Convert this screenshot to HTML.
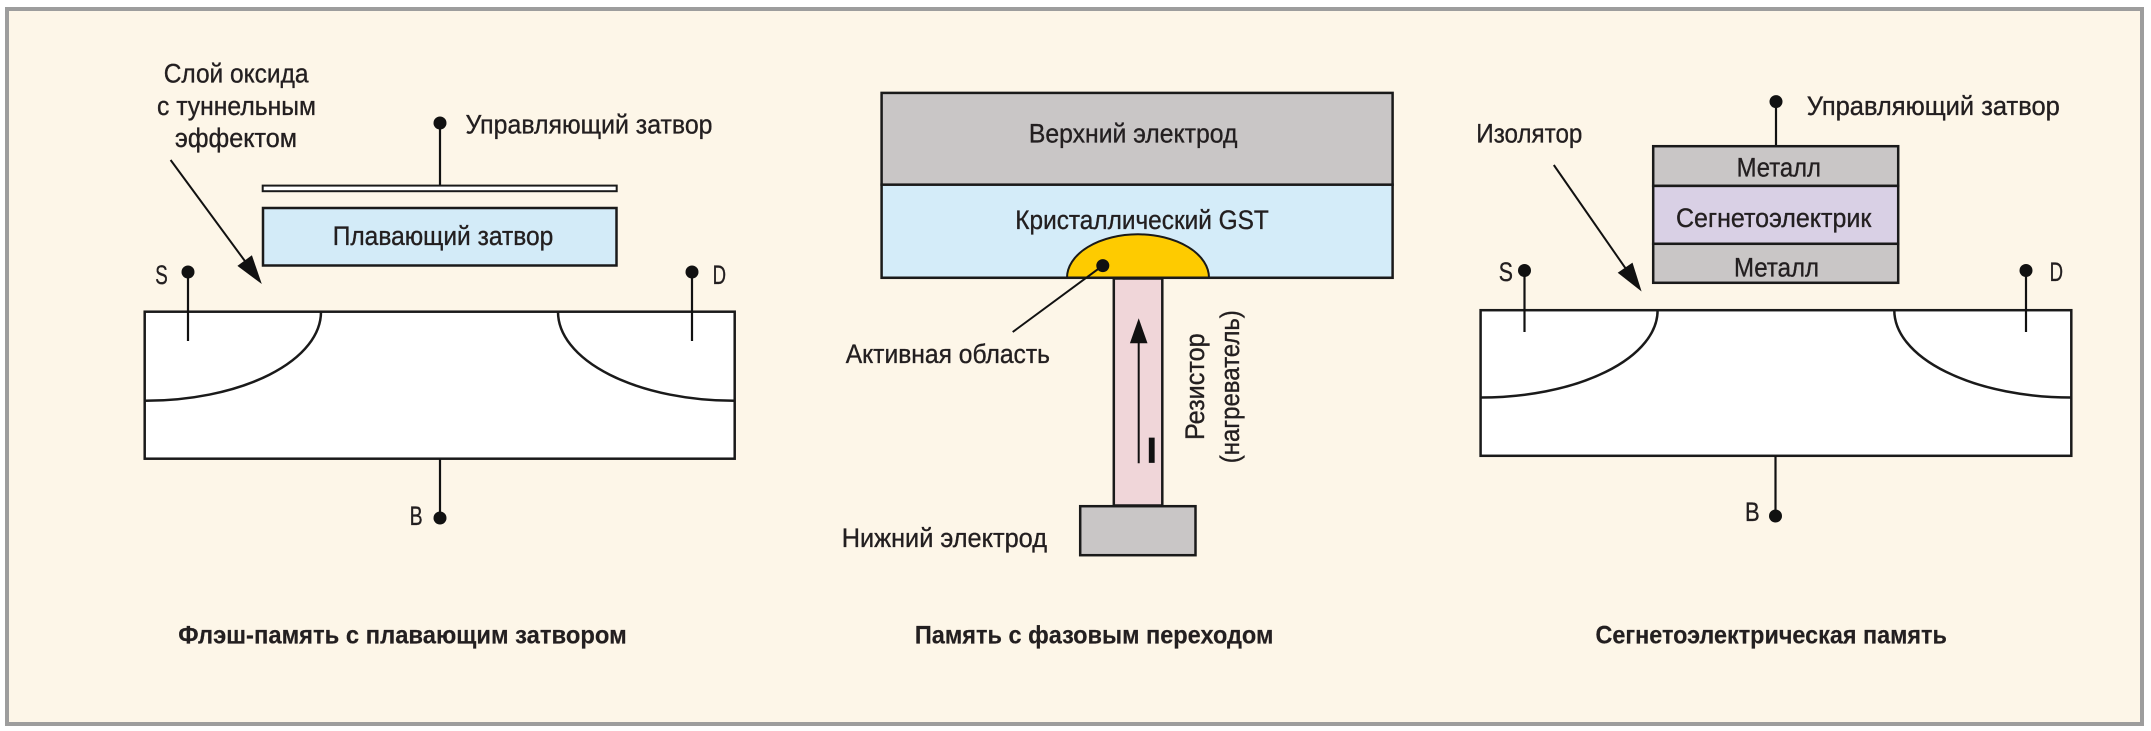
<!DOCTYPE html>
<html>
<head>
<meta charset="utf-8">
<style>
  html,body{margin:0;padding:0;background:#ffffff;}
  body{width:2151px;height:731px;overflow:hidden;}
  svg{display:block;}
  text{font-family:"Liberation Sans Narrow","Liberation Sans","DejaVu Sans",sans-serif;fill:#231f20;stroke:#231f20;stroke-width:0.35px;}
  .t{font-size:27px;}
  .h{font-size:25px;font-weight:bold;stroke-width:0.2px;}
</style>
</head>
<body>
<svg width="2151" height="731" viewBox="0 0 2151 731" xmlns="http://www.w3.org/2000/svg">
  <!-- frame -->
  <rect x="7" y="9" width="2135" height="715" fill="#fdf6e8" stroke="#9d9d9d" stroke-width="4"/>

  <!-- ================= FLASH ================= -->
  <text class="t" x="163.7" y="82.7" textLength="144.8" lengthAdjust="spacingAndGlyphs">Слой оксида</text>
  <text class="t" x="157" y="115.1" textLength="159" lengthAdjust="spacingAndGlyphs">с туннельным</text>
  <text class="t" x="175" y="146.9" textLength="122" lengthAdjust="spacingAndGlyphs">эффектом</text>

  <!-- control gate pin -->
  <line x1="440" y1="123" x2="440" y2="185" stroke="#111" stroke-width="2.2"/>
  <circle cx="440" cy="123" r="6.5" fill="#111"/>
  <text class="t" x="465.5" y="133.5" textLength="247" lengthAdjust="spacingAndGlyphs">Управляющий затвор</text>

  <!-- plate -->
  <rect x="262.7" y="185.6" width="354" height="5.6" fill="#ffffff" stroke="#1a1a1a" stroke-width="2"/>
  <!-- floating gate -->
  <rect x="263" y="208" width="353.5" height="57.5" fill="#d3ebf8" stroke="#1a1a1a" stroke-width="2.5"/>
  <text class="t" x="332.7" y="245" textLength="220.6" lengthAdjust="spacingAndGlyphs">Плавающий затвор</text>

  <!-- tunnel arrow -->
  <line x1="170.6" y1="160" x2="246" y2="262.5" stroke="#111" stroke-width="2"/>
  <polygon points="261.8,284 237.4,265.9 251.9,255.3" fill="#111"/>

  <!-- substrate -->
  <rect x="144.7" y="311.7" width="590" height="147" fill="#ffffff" stroke="#1a1a1a" stroke-width="2.5"/>
  <path d="M 321 311.7 A 176.3 89.1 0 0 1 144.7 400.8" fill="none" stroke="#1a1a1a" stroke-width="2.5"/>
  <path d="M 558 311.7 A 176.7 89.1 0 0 0 734.7 400.8" fill="none" stroke="#1a1a1a" stroke-width="2.5"/>

  <!-- S / D pins -->
  <line x1="188" y1="272" x2="188" y2="341" stroke="#111" stroke-width="2.2"/>
  <circle cx="188" cy="272" r="6.5" fill="#111"/>
  <text class="t" x="155.3" y="283.8" textLength="12.5" lengthAdjust="spacingAndGlyphs">S</text>
  <line x1="692" y1="272" x2="692" y2="341" stroke="#111" stroke-width="2.2"/>
  <circle cx="692" cy="272" r="6.5" fill="#111"/>
  <text class="t" x="712.6" y="283.8" textLength="13.4" lengthAdjust="spacingAndGlyphs">D</text>

  <!-- B pin -->
  <line x1="440" y1="459" x2="440" y2="518" stroke="#111" stroke-width="2.2"/>
  <circle cx="440" cy="518" r="6.5" fill="#111"/>
  <text class="t" x="409.6" y="525" textLength="13" lengthAdjust="spacingAndGlyphs">B</text>

  <text class="h" x="178.3" y="643.3" textLength="448.4" lengthAdjust="spacingAndGlyphs">Флэш-память с плавающим затвором</text>

  <!-- ================= PCM ================= -->
  <rect x="881.6" y="92.9" width="511" height="91.8" fill="#c9c6c6" stroke="#1a1a1a" stroke-width="2.5"/>
  <rect x="881.6" y="184.7" width="511" height="93.1" fill="#d4ecf9" stroke="#1a1a1a" stroke-width="2.5"/>
  <text class="t" x="1028.9" y="142.6" textLength="208.5" lengthAdjust="spacingAndGlyphs">Верхний электрод</text>
  <text class="t" x="1015.3" y="228.9" textLength="253.5" lengthAdjust="spacingAndGlyphs">Кристаллический GST</text>

  <!-- dome -->
  <path d="M 1067 277.8 A 71 43.5 0 0 1 1209 277.8 Z" fill="#fecb00" stroke="#1a1a1a" stroke-width="2"/>
  <line x1="881.6" y1="277.8" x2="1392.6" y2="277.8" stroke="#1a1a1a" stroke-width="2.5"/>

  <!-- resistor -->
  <rect x="1113.8" y="278.5" width="48.5" height="227" fill="#f0d6d9" stroke="#1a1a1a" stroke-width="2.5"/>
  <!-- bottom electrode -->
  <rect x="1080.2" y="506.2" width="115.3" height="49" fill="#c9c6c6" stroke="#1a1a1a" stroke-width="2.5"/>

  <!-- active region pointer -->
  <line x1="1102.8" y1="265.6" x2="1012.7" y2="332" stroke="#111" stroke-width="2"/>
  <circle cx="1102.8" cy="265.6" r="6.5" fill="#111"/>
  <text class="t" x="845.7" y="363" textLength="204.3" lengthAdjust="spacingAndGlyphs">Активная область</text>
  <text class="t" x="841.7" y="547.2" textLength="205.3" lengthAdjust="spacingAndGlyphs">Нижний электрод</text>

  <!-- current arrow -->
  <line x1="1138.7" y1="463.3" x2="1138.7" y2="342" stroke="#111" stroke-width="2"/>
  <polygon points="1138.7,318.3 1129.9,343.3 1147.5,343.3" fill="#111"/>
  <text x="1151.7" y="462.3" text-anchor="middle" style="font-size:35px;font-weight:bold;fill:#111;stroke:#111;stroke-width:0.8px;">I</text>

  <!-- rotated labels -->
  <text class="t" transform="translate(1204,386.7) rotate(-90)" x="-53.35" y="0" textLength="106.7" lengthAdjust="spacingAndGlyphs">Резистор</text>
  <text class="t" transform="translate(1239,386.7) rotate(-90)" x="-76.5" y="0" textLength="153" lengthAdjust="spacingAndGlyphs">(нагреватель)</text>

  <text class="h" x="914.9" y="643.3" textLength="358.5" lengthAdjust="spacingAndGlyphs">Память с фазовым переходом</text>

  <!-- ================= FERRO ================= -->
  <line x1="1776" y1="101.6" x2="1776" y2="146" stroke="#111" stroke-width="2.2"/>
  <circle cx="1776" cy="101.6" r="6.5" fill="#111"/>
  <text class="t" x="1806.8" y="115" textLength="253" lengthAdjust="spacingAndGlyphs">Управляющий затвор</text>

  <rect x="1653.2" y="146.2" width="245" height="39.7" fill="#c9c6c6" stroke="#1a1a1a" stroke-width="2.5"/>
  <rect x="1653.2" y="185.9" width="245" height="57.9" fill="#d9d0e5" stroke="#1a1a1a" stroke-width="2.5"/>
  <rect x="1653.2" y="243.8" width="245" height="39" fill="#c9c6c6" stroke="#1a1a1a" stroke-width="2.5"/>
  <text class="t" x="1736.6" y="176.6" textLength="84.4" lengthAdjust="spacingAndGlyphs">Металл</text>
  <text class="t" x="1676" y="227.2" textLength="195.3" lengthAdjust="spacingAndGlyphs">Сегнетоэлектрик</text>
  <text class="t" x="1734" y="276.5" textLength="85" lengthAdjust="spacingAndGlyphs">Металл</text>

  <text class="t" x="1476.3" y="142.6" textLength="106.1" lengthAdjust="spacingAndGlyphs">Изолятор</text>
  <line x1="1553.8" y1="165" x2="1626.5" y2="269.7" stroke="#111" stroke-width="2"/>
  <polygon points="1641.6,291.5 1617.7,272.8 1632.5,262.6" fill="#111"/>

  <rect x="1480.6" y="310.2" width="590.7" height="145.6" fill="#ffffff" stroke="#1a1a1a" stroke-width="2.5"/>
  <path d="M 1657.6 310.2 A 177 87.3 0 0 1 1480.6 397.5" fill="none" stroke="#1a1a1a" stroke-width="2.5"/>
  <path d="M 1894.3 310.2 A 177 87.3 0 0 0 2071.3 397.5" fill="none" stroke="#1a1a1a" stroke-width="2.5"/>

  <line x1="1524.5" y1="270.5" x2="1524.5" y2="332" stroke="#111" stroke-width="2.2"/>
  <circle cx="1524.5" cy="270.5" r="6.5" fill="#111"/>
  <text class="t" x="1498.8" y="280.8" textLength="14.2" lengthAdjust="spacingAndGlyphs">S</text>
  <line x1="2026" y1="270.5" x2="2026" y2="332" stroke="#111" stroke-width="2.2"/>
  <circle cx="2026" cy="270.5" r="6.5" fill="#111"/>
  <text class="t" x="2049.6" y="280.8" textLength="13.4" lengthAdjust="spacingAndGlyphs">D</text>

  <line x1="1775.5" y1="456" x2="1775.5" y2="516" stroke="#111" stroke-width="2.2"/>
  <circle cx="1775.5" cy="516" r="6.5" fill="#111"/>
  <text class="t" x="1745" y="521" textLength="14.7" lengthAdjust="spacingAndGlyphs">B</text>

  <text class="h" x="1595.5" y="643.3" textLength="351.4" lengthAdjust="spacingAndGlyphs">Сегнетоэлектрическая память</text>
</svg>
</body>
</html>
